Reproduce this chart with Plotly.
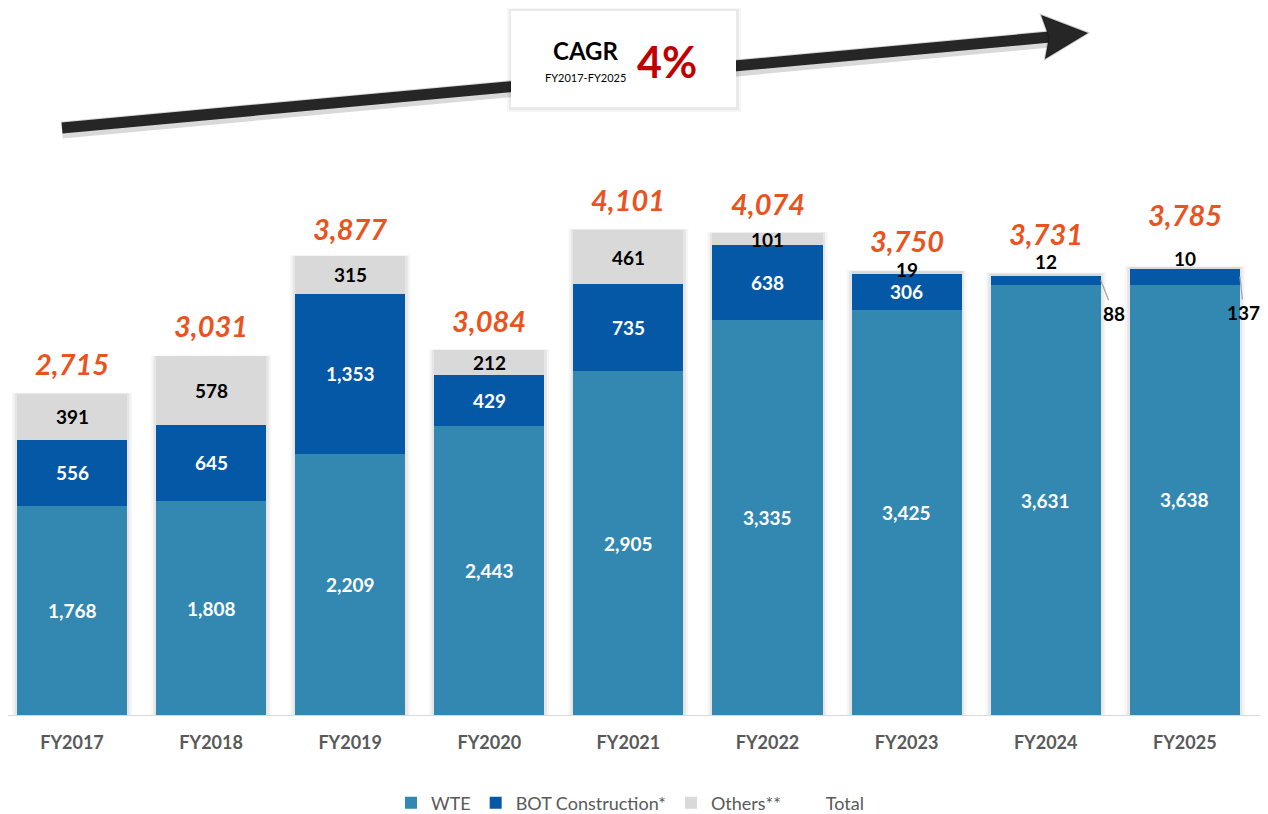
import plotly.graph_objects as go

categories = ["FY2017", "FY2018", "FY2019", "FY2020", "FY2021", "FY2022", "FY2023", "FY2024", "FY2025"]
wte = [1768, 1808, 2209, 2443, 2905, 3335, 3425, 3631, 3638]
bot = [556, 645, 1353, 429, 735, 638, 306, 88, 137]
others = [391, 578, 315, 212, 461, 101, 19, 12, 10]
totals = [2715, 3031, 3877, 3084, 4101, 4074, 3750, 3731, 3785]

# styling / layout (page body has an 8px default offset)
OFF = 8
W, H = 1268 - OFF, 814 - OFF
ML, MR, MT, MB = 0, 5, 0, 99
PW, PH = W - ML - MR, H - MT - MB
SCALE = 0.1183          # px per unit
CAT_PX = 139.1          # px per category
X0 = -(72 - OFF - ML) / CAT_PX
X1 = X0 + PW / CAT_PX
YMAX = PH / SCALE
C_WTE, C_BOT, C_OTH = "#3388B2", "#0558A6", "#D9D9D9"
C_TOT = "#EA531E"
FONT = "Lato"
BAR_HALF = 0.396
total_shift = [30, 31, 28, 30, 30, 30, 31, 40, 53]
others_top_shift = [None, None, None, None, None, None, 2, 12, 9]
bot_out = [None, None, None, None, None, None, None, (13, 33), (4, 36)]


def px(x):
    return (x - OFF - ML) / PW


def py(y):
    return (OFF + MT + PH - y) / PH


fig = go.Figure()
fig.add_trace(go.Bar(name="WTE", x=categories, y=wte, marker_color=C_WTE, hoverinfo="skip",
                     marker_line_width=0, width=2 * BAR_HALF))
fig.add_trace(go.Bar(name="BOT Construction*", x=categories, y=bot, marker_color=C_BOT, hoverinfo="skip",
                     marker_line_width=0, width=2 * BAR_HALF))
fig.add_trace(go.Bar(name="Others**", x=categories, y=others, marker_color=C_OTH, hoverinfo="skip",
                     marker_line_width=0, width=2 * BAR_HALF))
fig.add_trace(go.Scatter(name="Total", x=categories, y=totals, mode="markers",
                         marker=dict(color="rgba(0,0,0,0)", size=1), hoverinfo="skip"))

ann = []
lbl = 19
for i, c in enumerate(categories):
    ann.append(dict(x=i, y=wte[i] / 2, text=f"<b>{wte[i]:,}</b>", showarrow=False,
                    font=dict(family=FONT, size=lbl, color="white")))
    if bot_out[i] is None:
        ann.append(dict(x=i, y=wte[i] + bot[i] / 2, text=f"<b>{bot[i]:,}</b>", showarrow=False,
                        font=dict(family=FONT, size=lbl, color="white")))
    else:
        ax, ay = bot_out[i]
        ann.append(dict(x=i + BAR_HALF, y=wte[i] + bot[i] / 2, text=f"<b>{bot[i]:,}</b>",
                        showarrow=True, arrowhead=0, arrowwidth=1.3, arrowcolor="#A6A6A6",
                        ax=ax, ay=ay, standoff=0,
                        font=dict(family=FONT, size=lbl, color="black")))
    if others_top_shift[i] is None:
        ann.append(dict(x=i, y=wte[i] + bot[i] + others[i] / 2, text=f"<b>{others[i]:,}</b>",
                        showarrow=False, font=dict(family=FONT, size=lbl, color="black")))
    else:
        ann.append(dict(x=i, y=totals[i], yshift=others_top_shift[i], text=f"<b>{others[i]:,}</b>",
                        showarrow=False, font=dict(family=FONT, size=lbl, color="black")))
    ann.append(dict(x=i, y=totals[i], yshift=total_shift[i], text=f"<b><i>{totals[i]:,}</i></b>",
                    showarrow=False, font=dict(family=FONT, size=29, color=C_TOT)))

box_text = [
    (585, 51, "<b>CAGR</b>", 24, "black"),
    (585, 78, "FY2017-FY2025", 11, "black"),
    (667, 62, "<b>4%</b>", 43, "#C00000"),
]
for x, y, t, s, col in box_text:
    ann.append(dict(xref="paper", yref="paper", x=px(x), y=py(y), text=t, showarrow=False,
                    xanchor="center", yanchor="middle", font=dict(family=FONT, size=s, color=col)))

shapes = []
# soft bar shadows
for i, t in enumerate(totals):
    for d, a in ((0.035, 0.04), (0.018, 0.06)):
        shapes.append(dict(type="rect", layer="below", x0=i - BAR_HALF - d, x1=i + BAR_HALF + d,
                           y0=0, y1=t + d * 250, fillcolor=f"rgba(0,0,0,{a})", line=dict(width=0)))
# arrow shadow
shapes.append(dict(type="line", xref="paper", yref="paper", x0=px(62), y0=py(130), x1=px(1050), y1=py(39),
                   line=dict(color="rgba(0,0,0,0.15)", width=17)))
# arrow shaft
shapes.append(dict(type="line", xref="paper", yref="paper", x0=px(62), y0=py(128), x1=px(1050), y1=py(37),
                   line=dict(color="#262626", width=11)))
# arrow head
head = [(1088, 33), (1041, 15), (1049, 37), (1045, 59)]
path = "M " + " L ".join(f"{px(x)},{py(y)}" for x, y in head) + " Z"
shapes.append(dict(type="path", xref="paper", yref="paper", path=path,
                   fillcolor="#262626", line=dict(color="rgba(0,0,0,0.2)", width=2)))
# CAGR box shadow and box
shapes.append(dict(type="rect", xref="paper", yref="paper", x0=px(507), x1=px(741), y0=py(7), y1=py(112),
                   fillcolor="rgba(0,0,0,0.035)", line=dict(width=0)))
shapes.append(dict(type="rect", xref="paper", yref="paper", x0=px(509), x1=px(739), y0=py(9), y1=py(110),
                   fillcolor="rgba(0,0,0,0.05)", line=dict(width=0)))
shapes.append(dict(type="rect", xref="paper", yref="paper", x0=px(511), x1=px(736), y0=py(11), y1=py(107),
                   fillcolor="white", line=dict(width=0)))

fig.update_layout(
    barmode="stack",
    width=W, height=H,
    margin=dict(l=ML, r=MR, t=MT, b=MB, autoexpand=False),
    plot_bgcolor="white", paper_bgcolor="white",
    font=dict(family=FONT),
    xaxis=dict(showline=True, linecolor="#D9D9D9", linewidth=1, ticks="", automargin=False,
               range=[X0, X1], ticklabelstandoff=11,
               tickfont=dict(family=FONT, size=18, color="#595959"),
               tickvals=categories, ticktext=[f"<b>{c}</b>" for c in categories]),
    yaxis=dict(range=[0, YMAX], visible=False, showgrid=False, automargin=False),
    legend=dict(orientation="h", x=px(630), xanchor="center", y=py(803), yanchor="middle",
                itemwidth=30,
                font=dict(family=FONT, size=18, color="#595959"), traceorder="normal"),
    annotations=ann,
    shapes=shapes,
)

fig.write_html("out.html")
